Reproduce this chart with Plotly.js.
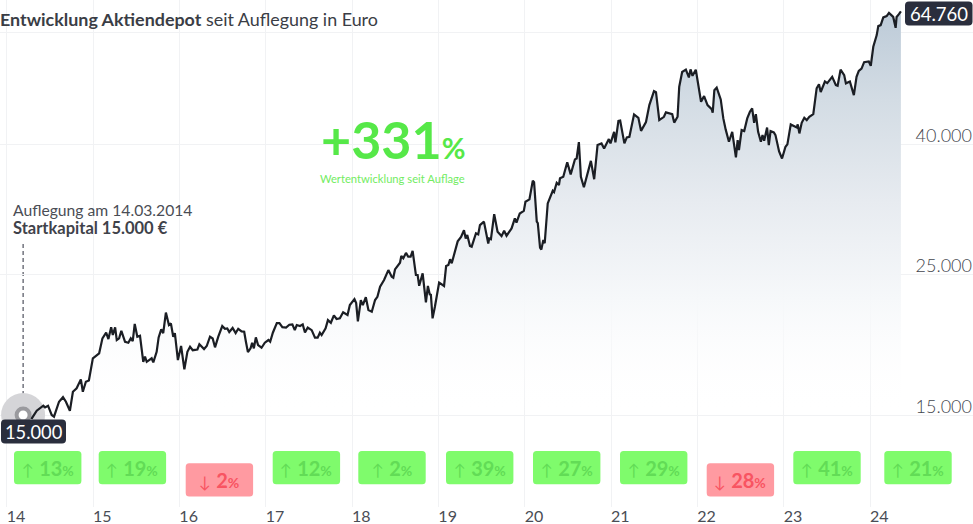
<!DOCTYPE html>
<html>
<head>
<meta charset="utf-8">
<script src="https://cdn.plot.ly/plotly-3.0.1.min.js"></script>
<style>html,body{margin:0;padding:0;background:#fff}#chart{width:973px;height:524px}</style>
</head>
<body>
<div id="chart"></div>
<script>
// fractional two-digit years
const years = [
14.19,14.236,14.294,14.348,14.424,14.444,14.479,14.521,14.548,14.606,14.652,14.686,14.732,14.767,14.81,14.859,14.882,14.917,14.952,14.998,
15.071,15.109,15.152,15.178,15.21,15.229,15.256,15.275,15.302,15.328,15.371,15.409,15.437,15.46,15.483,15.513,15.544,15.582,15.602,15.622,15.679,15.698,15.737,15.76,15.79,15.813,15.844,15.879,15.902,15.929,15.948,15.983,
16.02,16.058,16.093,16.124,16.155,16.209,16.232,16.286,16.317,16.355,16.386,16.413,16.451,16.497,16.528,16.555,16.578,16.617,16.652,16.682,16.721,16.751,16.771,16.794,16.825,16.843,16.863,16.886,16.912,16.952,16.99,
17.032,17.052,17.083,17.129,17.159,17.193,17.236,17.274,17.309,17.337,17.36,17.398,17.429,17.455,17.487,17.533,17.571,17.602,17.628,17.648,17.694,17.721,17.755,17.79,17.821,17.859,17.897,17.948,17.975,
18.028,18.048,18.068,18.102,18.125,18.16,18.19,18.229,18.267,18.294,18.325,18.371,18.421,18.46,18.478,18.498,18.556,18.571,18.594,18.625,18.651,18.679,18.702,18.74,18.76,18.778,18.818,18.856,18.879,18.902,18.913,18.933,18.96,19.009,
19.066,19.09,19.116,19.136,19.155,19.224,19.263,19.297,19.317,19.335,19.366,19.386,19.436,19.462,19.482,19.528,19.578,19.589,19.609,19.647,19.686,19.732,19.762,19.79,19.848,19.886,19.905,19.943,19.99,20.009,
20.055,20.094,20.109,20.14,20.152,20.178,20.193,20.216,20.232,20.267,20.325,20.34,20.371,20.397,20.409,20.447,20.493,20.533,20.582,20.602,20.628,20.651,20.686,20.767,20.805,20.844,20.89,20.92,20.975,20.994,
21.036,21.051,21.086,21.106,21.155,21.183,21.213,21.267,21.317,21.348,21.405,21.444,21.498,21.521,21.559,21.613,21.636,21.709,21.732,21.771,21.79,21.824,21.867,21.902,21.921,21.944,21.982,22.009,
22.043,22.078,22.118,22.166,22.178,22.197,22.224,22.271,22.301,22.328,22.366,22.404,22.447,22.467,22.482,22.513,22.543,22.578,22.609,22.635,22.658,22.678,22.704,22.736,22.755,22.774,22.808,22.828,22.848,22.886,22.905,22.947,22.981,23.021,
23.043,23.082,23.152,23.163,23.182,23.209,23.239,23.267,23.297,23.343,23.382,23.409,23.429,23.478,23.505,23.562,23.605,23.625,23.659,23.701,23.721,23.767,23.813,23.844,23.87,23.902,23.932,23.986,24.009,
24.038,24.078,24.096,24.124,24.154,24.193,24.22,24.269,24.297,24.308,24.335,24.358
];
const depotValues = [
15000,14890,14840,15235,15514,15420,15514,15000,14910,15740,16000,15740,15235,16320,16522,17068,16320,16923,17000,18418,
18755,19800,20210,19750,20610,20040,20610,19680,19800,20350,19560,19490,19800,19610,20860,19920,19990,18190,18530,18190,18420,18150,18860,19870,20460,20180,21740,20780,20910,19920,20180,18300,
19260,17700,18860,19210,18970,19020,19380,19050,19260,19920,19790,19170,19920,20700,20500,20530,20260,20560,20180,20500,20310,20280,19560,18840,19100,19490,19100,19870,19330,19140,19490,
19680,19560,20210,20920,20920,20620,20590,20800,20830,20400,20780,20710,20830,20230,20590,20400,19850,19850,20210,20040,20530,21156,20950,21520,21240,21300,21760,21550,22340,
22830,22500,21060,22750,22340,22980,21940,21810,22750,23020,23870,24460,25360,24750,24660,25420,26040,26680,26460,26990,26620,26620,27190,24910,24910,23960,25060,22550,23940,23170,23250,21290,22200,24230,
23940,25730,25830,26370,25990,28140,28600,29290,28440,28790,27670,27600,28980,28860,29850,30230,27930,28440,28370,31060,29130,28680,29240,28720,29490,30580,30120,31130,31430,32480,
32760,35050,34860,30220,30050,27500,27310,28290,27950,32290,33800,33640,34790,34510,35360,35560,37490,35870,37870,38000,40330,35560,34230,37670,35240,39890,40130,39410,40760,40130,
41850,40270,43550,43600,40130,41010,41100,44580,44030,41990,43360,46100,48500,48320,43660,44190,44900,44620,43270,44190,49260,51990,52420,50960,52480,51260,52420,49880,
46660,47630,46100,45440,44840,48670,49110,47060,43930,42220,40370,41850,38150,40620,39160,42110,41960,43930,45010,45550,43250,44620,41850,40370,41360,40520,42500,39890,41960,41760,41360,38980,37990,39640,
39990,42990,42520,42990,41610,43240,44030,43660,44190,44620,49000,49730,48340,50220,49930,51090,49570,49440,52420,51400,49880,50220,47800,51090,52200,52630,53870,54000,53140,
56960,59410,61380,61600,63340,63640,64400,63460,60990,63460,64100,64760
];
const yTickVals = [15000, 25000, 40000, 60000];
const yTickText = ["15.000", "25.000", "40.000", ""];
const xTickVals = [14,15,16,17,18,19,20,21,22,23,24];
const xTickText = ["14","15","16","17","18","19","20","21","22","23","24"];
const annualReturns = [13,19,-2,12,2,39,27,29,-28,41,21];
const startLabel = "15.000";
const endLabel = "64.760";

const W = 973, H = 524, PLOT_H = 507;
const FONT = "Lato, 'Noto Sans', sans-serif";
const px = x => x / W, py = y => 1 - y / PLOT_H;
const rr = (x0,y0,x1,y1,r) => `M ${px(x0+r)} ${py(y0)} L ${px(x1-r)} ${py(y0)} Q ${px(x1)} ${py(y0)} ${px(x1)} ${py(y0+r)} L ${px(x1)} ${py(y1-r)} Q ${px(x1)} ${py(y1)} ${px(x1-r)} ${py(y1)} L ${px(x0+r)} ${py(y1)} Q ${px(x0)} ${py(y1)} ${px(x0)} ${py(y1-r)} L ${px(x0)} ${py(y0+r)} Q ${px(x0)} ${py(y0)} ${px(x0+r)} ${py(y0)} Z`;
const txt = (x,y,text,size,color,anchor,extra) => Object.assign({xref:'paper',yref:'paper',x:px(x),y:py(y),text,showarrow:false,xanchor:anchor||'left',yanchor:'middle',align:anchor||'left',font:{family:FONT,size,color},borderpad:0,borderwidth:0}, extra||{});

const badgeLeft = [14,98.7,185.7,272.7,358.3,446,533,620,706.7,793.3,884.3];
const shapes = [
  {type:'rect',layer:'between',xref:'paper',yref:'paper',x0:0,x1:1,y0:py(32),y1:1,fillcolor:'#fff',line:{width:0}},
  {type:'line',xref:'x',yref:'paper',x0:years[0],x1:years[0],y0:py(244),y1:py(410),line:{color:'#2a2e3d',width:1,dash:'4px,3px'},layer:'between'},
  {type:'path',xref:'paper',yref:'paper',path:rr(1,419.5,66,443.5,4),fillcolor:'#2a2e3d',line:{width:0}},
  {type:'path',xref:'paper',yref:'paper',path:rr(905,1.5,972.5,25.5,4),fillcolor:'#2a2e3d',line:{width:0}}
];
const annotations = [
  txt(0,19,'<b>Entwicklung Aktiendepot</b> seit Auflegung in Euro',17.9,'#3a3d45'),
  txt(13,210,'Auflegung am 14.03.2014',15.7,'#4a4d55'),
  txt(13,228.5,'<b>Startkapital 15.000 €</b>',16.5,'#3f424a'),
  txt(33.5,431.5,startLabel,18.3,'#ffffff','center'),
  txt(938.7,13.5,endLabel,18.5,'#ffffff','center'),
  txt(321,139.5,'<b>+331<span style="font-size:29px">%</span></b>',52,'#56e848'),
  txt(320,178,'Wertentwicklung seit Auflage',11.2,'#72ec62')
];
annualReturns.forEach((r,i)=>{
  const up = r >= 0;
  const top = up ? 451 : 463.3, l = badgeLeft[i];
  shapes.push({type:'path',xref:'paper',yref:'paper',path:rr(l,top,l+67.4,top+33.3,3.5),fillcolor:up?'#7ffb6c':'#ff9aa1',line:{width:0}});
  annotations.push(txt(l+33.7,top+17,`<span style="font-size:16px">${up?'↑':'↓'}</span> <b>${Math.abs(r)}<span style="font-size:14px">%</span></b>`,20,up?'#62dc56':'#f85462','center'));
});

const data = [
  {type:'scatter',mode:'markers',x:[years[0]],y:[depotValues[0]],marker:{size:44,color:'#d5d5d8'},hoverinfo:'skip'},
  {type:'scatter',mode:'lines',x:years,y:depotValues,line:{color:'#1b1e24',width:2.2,shape:'linear'},fill:'tozeroy',
   fillgradient:{type:'vertical',start:15000,stop:64760,colorscale:[[0,'rgba(255,255,255,0)'],[0.28,'rgba(246,248,250,0.95)'],[0.53,'#e7ebf0'],[0.78,'#d3dce4'],[1,'#bdcbd8']]},hoverinfo:'skip'},
  {type:'scatter',mode:'markers',x:[years[0]],y:[depotValues[0]],marker:{size:13,color:'#ffffff',line:{color:'#9a9a9e',width:4}},hoverinfo:'skip'}
];
const layout = {
  width:W,height:H,margin:{l:0,r:0,t:0,b:H-PLOT_H},showlegend:false,paper_bgcolor:'#fff',plot_bgcolor:'#fff',
  font:{family:FONT},
  xaxis:{type:'linear',range:[13.9224,25.1931],tickmode:'array',tickvals:xTickVals,ticktext:xTickText,ticklabelposition:'outside right',ticklabelstandoff:-2,
    showgrid:true,gridcolor:'#f1f2f4',gridwidth:1,zeroline:false,showline:false,ticks:'',tickfont:{family:FONT,size:16,color:'#4a4d55'}},
  yaxis:{type:'log',range:[4.03132,4.82912],side:'right',tickmode:'array',tickvals:yTickVals,ticktext:yTickText,ticklabelposition:'inside top',ticklabelshift:4,ticklabelstandoff:-2,
    showgrid:true,gridcolor:'#f1f2f4',gridwidth:1,zeroline:false,showline:false,ticks:'',tickfont:{family:FONT,size:18,color:'#43464e',weight:300}},
  shapes,annotations
};
Plotly.newPlot('chart',data,layout,{staticPlot:true,displayModeBar:false});
</script>
</body>
</html>
